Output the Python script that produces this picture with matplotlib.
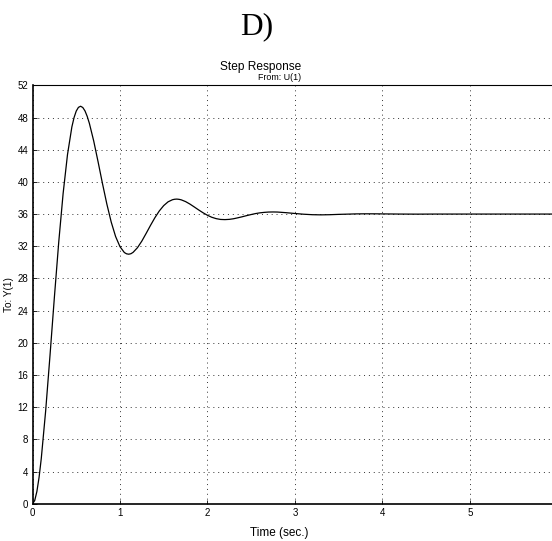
import matplotlib
matplotlib.use("Agg")
import matplotlib.pyplot as plt

# step response (time in s, output)
t = [0.000, 0.025, 0.050, 0.075, 0.10, 0.15, 0.20, 0.25, 0.30, 0.35,
     0.40, 0.45, 0.475, 0.50, 0.525, 0.55, 0.575, 0.60, 0.625, 0.65,
     0.70, 0.75, 0.80, 0.85, 0.90, 0.95, 1.00, 1.05, 1.075, 1.10,
     1.125, 1.15, 1.20, 1.25, 1.30, 1.35, 1.40, 1.45, 1.50, 1.55,
     1.60, 1.625, 1.65, 1.675, 1.70, 1.75, 1.80, 1.85, 1.90, 1.95,
     2.00, 2.05, 2.10, 2.15, 2.20, 2.25, 2.30, 2.35, 2.40, 2.45,
     2.50, 2.55, 2.60, 2.65, 2.70, 2.75, 2.80, 2.90, 3.00, 3.10,
     3.20, 3.30, 3.40, 3.50, 3.60, 3.70, 3.80, 3.90, 4.00, 4.20,
     4.40, 4.60, 5.00, 5.50, 5.94]
y = [0.00, 0.39, 1.52, 3.28, 5.60, 11.50, 18.43, 25.65, 32.53, 38.56,
     43.39, 46.83, 47.99, 48.80, 49.26, 49.40, 49.24, 48.82, 48.15, 47.28,
     45.07, 42.48, 39.79, 37.24, 35.00, 33.21, 31.95, 31.22, 31.06, 31.01,
     31.07, 31.24, 31.82, 32.64, 33.61, 34.61, 35.56, 36.39, 37.05, 37.52,
     37.78, 37.84, 37.86, 37.83, 37.77, 37.55, 37.24, 36.88, 36.51, 36.16,
     35.85, 35.60, 35.43, 35.33, 35.31, 35.34, 35.42, 35.54, 35.67, 35.81,
     35.94, 36.06, 36.15, 36.21, 36.25, 36.26, 36.25, 36.17, 36.07, 35.98,
     35.92, 35.90, 35.92, 35.96, 35.99, 36.02, 36.03, 36.03, 36.02, 36.00,
     35.99, 36.00, 36.00, 36.00, 36.00]

xticks = [0, 1, 2, 3, 4, 5]
yticks = list(range(0, 53, 4))

plt.rcParams['font.family'] = ['Liberation Sans', 'DejaVu Sans']

fig = plt.figure(figsize=(5.52, 5.41), dpi=100)
ax = fig.add_axes([0.0589, 0.0689, 0.9411, 0.7734])

ax.plot(t, y, color='black', lw=0.9)

ax.set_xlim(0, 5.94)
ax.set_ylim(0, 52)
ax.set_xticks(xticks)
ax.set_yticks(yticks)
ax.tick_params(direction='in', length=3, width=0.6, labelsize=7, pad=3)
ax.grid(True, color='#333333', linestyle=(0, (1, 4)), linewidth=0.7)

ax.spines['right'].set_visible(False)
ax.spines['left'].set_linewidth(1.2)
ax.spines['bottom'].set_linewidth(1.2)
ax.spines['top'].set_linewidth(0.8)

ax.set_xlabel('Time (sec.)', fontsize=8.5)
ax.xaxis.set_label_coords((279 - 32.5) / (552 - 32.5), -0.055)
ax.set_ylabel('To: Y(1)', fontsize=7.2)
ax.yaxis.set_label_coords((13.5 - 32.5) / (552 - 32.5), 0.5)

fig.text(257 / 552, 1 - 27 / 541, 'D)', ha='center', va='center',
         fontsize=22.5, family='Liberation Serif')
fig.text(261 / 552, 1 - 67 / 541, 'Step Response', ha='center', va='center',
         fontsize=8.6)
fig.text(280 / 552, 1 - 77.5 / 541, 'From: U(1)', ha='center', va='center',
         fontsize=6.4)

fig.savefig('out.png', dpi=100)
